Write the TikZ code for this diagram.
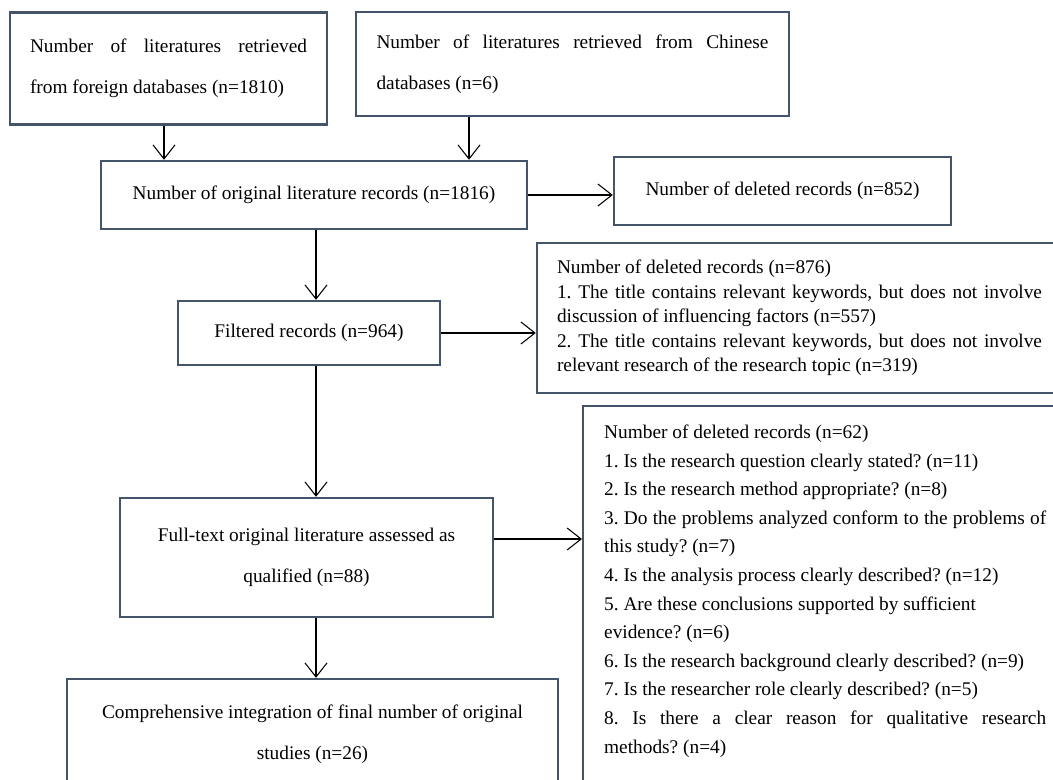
\documentclass[tikz,border=0pt]{standalone}
\usepackage{fontspec}
\setmainfont{Liberation Serif}
\usetikzlibrary{arrows.meta}
\definecolor{boxblue}{HTML}{44546A}
\setlength\parindent{0pt}
\frenchspacing
\begin{document}
\begin{tikzpicture}[x=0.75pt,y=-0.75pt,
  box/.style={draw=boxblue,line width=1.8pt,inner sep=0pt},
  wide/.style={font=\fontsize{14.5}{30.75}\selectfont},
  flow/.style={draw=black,line width=0.8pt,-{Straight Barb[length=10.5pt,width=16.5pt,line width=0.8pt]}}]
\useasboundingbox (0,0) rectangle (1053,780);
\clip (0,0) rectangle (1053,780);
\node[box,wide,minimum width=237.75pt,minimum height=84pt,text width=207.75pt,align=justify] (foreign) at (168.5,68.5) {Number of literatures retrieved\linebreak from foreign databases (n=1810)};
\node[box,wide,minimum width=324.75pt,minimum height=78pt,text width=294pt,align=justify] (chinese) at (572.5,64) {Number of literatures retrieved from Chinese\linebreak databases (n=6)};
\node[box,wide,minimum width=319.5pt,minimum height=51pt] (original) at (314,195) {Number of original literature records (n=1816)};
\node[box,wide,minimum width=252.75pt,minimum height=51pt] (deleted) at (782.5,191) {Number of deleted records (n=852)};
\node[box,wide,minimum width=196.5pt,minimum height=48pt] (filtered) at (309,333) {Filtered records (n=964)};
\node[box,font=\fontsize{14.5}{18.4}\selectfont,minimum width=393.75pt,minimum height=112.5pt,text width=363.75pt,align=justify] (titles) at (799.5,318) {Number of deleted records (n=876)\\
1. The title contains relevant keywords, but does not involve\linebreak discussion of influencing factors (n=557)\\
2. The title contains relevant keywords, but does not involve\linebreak relevant research of the research topic (n=319)};
\node[box,font=\fontsize{14.5}{21.45}\selectfont,anchor=north west,inner xsep=15.75pt,inner ysep=14pt,text width=331.5pt,align=justify] (quality) at (582,405) {Number of deleted records (n=62)\\
1. Is the research question clearly stated? (n=11)\\
2. Is the research method appropriate? (n=8)\\
3. Do the problems analyzed conform to the problems of\linebreak this study? (n=7)\\
4. Is the analysis process clearly described? (n=12)\\
5. Are these conclusions supported by sufficient\\
evidence? (n=6)\\
6. Is the research background clearly described? (n=9)\\
7. Is the researcher role clearly described? (n=5)\\
8. Is there a clear reason for qualitative research\linebreak methods? (n=4)\rule[-40pt]{0pt}{0pt}};
\node[box,wide,minimum width=279.75pt,minimum height=89.25pt,align=center] (fulltext) at (306.5,557.5) {Full-text original literature assessed as\\ qualified (n=88)};
\node[box,wide,minimum width=368.25pt,minimum height=83.25pt,align=center] (final) at (312.5,734.5) {Comprehensive integration of final number of original\\ studies (n=26)};
\coordinate (spine) at (316,0);
\coordinate (leftin) at (164,0);
\coordinate (rightin) at (469,0);
\coordinate (qualrow) at (0,539);
\draw[flow] (leftin |- foreign.south) -- (leftin |- original.north);
\draw[flow] (rightin |- chinese.south) -- (rightin |- original.north);
\draw[flow] (original.east) -- (original.east -| deleted.west);
\draw[flow] (spine |- original.south) -- (spine |- filtered.north);
\draw[flow] (filtered.east) -- (filtered.east -| titles.west);
\draw[flow] (spine |- filtered.south) -- (spine |- fulltext.north);
\draw[flow] (qualrow -| fulltext.east) -- (qualrow -| quality.west);
\draw[flow] (spine |- fulltext.south) -- (spine |- final.north);
\end{tikzpicture}
\end{document}
